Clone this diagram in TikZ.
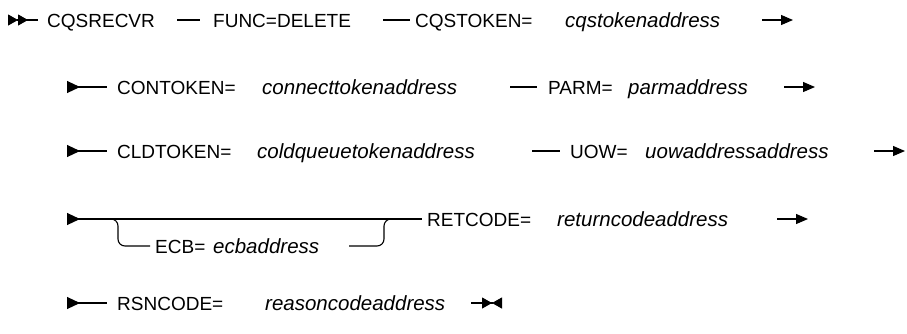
\documentclass[tikz,border=0pt]{standalone}
\usepackage{fontspec}
\setmainfont{Liberation Sans}
\usetikzlibrary{arrows.meta, positioning}
\tikzset{
  >={Triangle[length=11pt,width=10pt]},
  % texts of the syntax diagram
  kw/.style={inner sep=0pt,anchor=base west,yshift=-7pt,font=\fontsize{19}{22}\selectfont},
  var/.style={kw,font=\fontsize{20.5}{22}\selectfont\itshape},
  % rail lines
  rail/.style={line width=1.1pt,black},
  rail start/.style={rail,{Triangle[reversed,length=13pt,width=12pt]}-},
  rail first/.style={rail,{Triangle[reversed,length=10pt,width=11pt]Triangle[reversed,length=10pt,width=11pt]}-},
  rail next/.style={rail,-{Triangle[length=12pt,width=10pt]}},
  rail stop/.style={rail,-{Triangle[length=10pt,width=11pt]Triangle[reversed,length=10pt,width=11pt]}}
}
\begin{document}
\begin{tikzpicture}[x=1pt,y=-1pt]
  \useasboundingbox (0,0) rectangle (907,333);
  \def\ra{20}\def\rb{87}\def\rc{151}\def\rd{219}\def\re{303}
  \def\ecb{246}
  % row 1
  \node[kw] (cqsrecvr) at (47,\ra) {CQSRECVR};
  \node[kw] (func) at (213,\ra) {FUNC=DELETE};
  \node[kw] (cqstoken) at (415,\ra) {CQSTOKEN=};
  \node[var] (cqstokenvar) at (565,\ra) {cqstokenaddress};
  \coordinate (s1) at (8,\ra);
  \coordinate (e1) at (793,\ra);
  \draw[rail first] (s1) -- ([xshift=-9pt]cqsrecvr.west |- s1);
  \draw[rail] ([xshift=-36pt]func.west |- s1) -- ([xshift=-13pt]func.west |- s1);
  \draw[rail] ([xshift=-32pt]cqstoken.west |- s1) -- ([xshift=-5pt]cqstoken.west |- s1);
  \draw[rail next] ([xshift=-31pt]e1) -- (e1);
  % row 2
  \node[kw] (contoken) at (117,\rb) {CONTOKEN=};
  \node[var] (contokenvar) at (262,\rb) {connecttokenaddress};
  \node[kw] (parm) at (548,\rb) {PARM=};
  \node[var] (parmvar) at (628,\rb) {parmaddress};
  \coordinate (s2) at (67,\rb);
  \coordinate (e2) at (815,\rb);
  \draw[rail start] (s2) -- ([xshift=-10pt]contoken.west |- s2);
  \draw[rail] ([xshift=-38pt]parm.west |- s2) -- ([xshift=-11pt]parm.west |- s2);
  \draw[rail next] ([xshift=-31pt]e2) -- (e2);
  % row 3
  \node[kw] (cldtoken) at (117,\rc) {CLDTOKEN=};
  \node[var] (cldtokenvar) at (257,\rc) {coldqueuetokenaddress};
  \node[kw] (uow) at (570,\rc) {UOW=};
  \node[var] (uowvar) at (645,\rc) {uowaddressaddress};
  \coordinate (s3) at (67,\rc);
  \coordinate (e3) at (905,\rc);
  \draw[rail start] (s3) -- ([xshift=-10pt]cldtoken.west |- s3);
  \draw[rail] ([xshift=-38pt]uow.west |- s3) -- ([xshift=-10pt]uow.west |- s3);
  \draw[rail next] ([xshift=-31pt]e3) -- (e3);
  % row 4 with optional ECB
  \node[kw] (retcode) at (427,\rd) {RETCODE=};
  \node[var] (retcodevar) at (557,\rd) {returncodeaddress};
  \node[kw] (ecb) at (155,\ecb) {ECB=};
  \node[var] (ecbvar) at (213,\ecb) {ecbaddress};
  \coordinate (s4) at (67,\rd);
  \coordinate (e4) at (808,\rd);
  \coordinate (forkL) at (108,\rd);
  \coordinate (forkR) at (394,\rd);
  \coordinate (ecbL) at (118,\ecb);
  \coordinate (ecbR) at (349,\ecb);
  \draw[rail start] (s4) -- ([xshift=-5pt]retcode.west |- s4);
  \draw[rail,rounded corners=7pt] (forkL) -| (ecbL) -- ([xshift=-5pt]ecb.west |- ecbL);
  \draw[rail,rounded corners=7pt] (ecbR) -| ([xshift=-10pt]forkR) -- (forkR);
  \draw[rail next] ([xshift=-31pt]e4) -- (e4);
  % row 5
  \node[kw] (rsncode) at (117,\re) {RSNCODE=};
  \node[var] (rsncodevar) at (265,\re) {reasoncodeaddress};
  \coordinate (s5) at (67,\re);
  \coordinate (e5) at (502,\re);
  \draw[rail start] (s5) -- ([xshift=-10pt]rsncode.west |- s5);
  \draw[rail stop] ([xshift=-31pt]e5) -- (e5);
\end{tikzpicture}
\end{document}
